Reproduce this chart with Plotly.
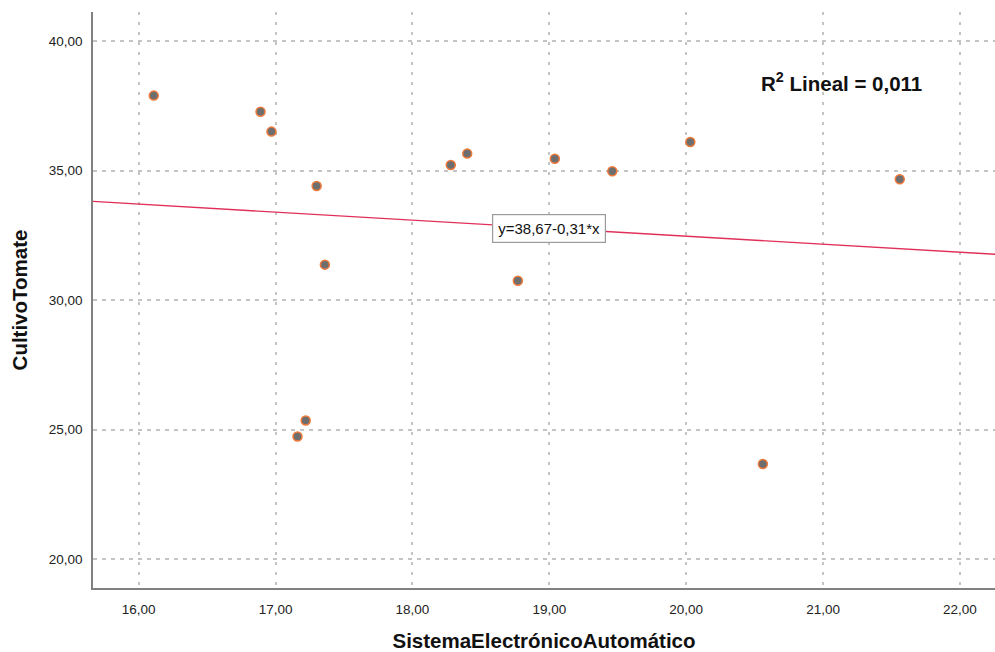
import plotly.graph_objects as go

# Observations: electronic automatic system score vs. tomato crop yield
sistema = [16.11, 16.89, 16.97, 17.30, 17.36, 17.22, 17.16, 18.28, 18.40,
           19.04, 19.46, 18.77, 20.03, 20.56, 21.56]
cultivo = [37.90, 37.28, 36.51, 34.41, 31.37, 25.35, 24.73, 35.22, 35.66,
           35.46, 34.98, 30.75, 36.11, 23.67, 34.67]

# Linear fit as reported
intercept = 38.67
slope = -0.31
r2 = 0.011

x_range = [15.666, 22.256]
y_range = [18.88, 41.13]
x_ticks = [16, 17, 18, 19, 20, 21, 22]
y_ticks = [20, 25, 30, 35, 40]

font_family = "Liberation Sans, Arial, sans-serif"

# plot area in pixels
left, right, top, bottom = 93, 995, 12, 588

fig = go.Figure()

fit_x = list(x_range)
fit_y = [intercept + slope * v for v in fit_x]
fig.add_trace(go.Scatter(
    x=fit_x, y=fit_y, mode="lines",
    line=dict(color="#E0305A", width=1.4),
    hoverinfo="skip", showlegend=False,
))

fig.add_trace(go.Scatter(
    x=sistema, y=cultivo, mode="markers",
    marker=dict(size=9, color="#6E6E6E",
                line=dict(color="#F07A3A", width=1.5)),
    showlegend=False,
))

label_x = 19.0
fig.add_annotation(
    x=label_x, y=intercept + slope * label_x, xref="x", yref="y",
    xanchor="center", yanchor="middle",
    text=f"y={intercept:.2f}{slope:+.2f}*x".replace(".", ","),
    showarrow=False, font=dict(family=font_family, size=15, color="#111111"),
    bgcolor="white", bordercolor="#9A9A9A", borderwidth=1.2, borderpad=5,
)

fig.add_annotation(
    x=(841 - left) / (right - left), y=1 - (82 - top) / (bottom - top),
    xref="paper", yref="paper", xanchor="center", yanchor="middle",
    text=f"<b>R<sup>2</sup> Lineal = {r2:.3f}</b>".replace(".", ","),
    showarrow=False, font=dict(family=font_family, size=20.5, color="#111111"),
)

fig.update_layout(
    width=995, height=652,
    margin=dict(l=left, r=995 - right, t=top, b=652 - bottom),
    paper_bgcolor="white", plot_bgcolor="white",
    separators=",.",
    font=dict(family=font_family, size=13, color="#222222"),
    xaxis=dict(
        range=x_range, tickvals=x_ticks, tickformat=".2f",
        showgrid=True, gridcolor="#C4C4C4", gridwidth=1.5, griddash="3px,7px",
        showline=True, linecolor="#808080", linewidth=1.5,
        ticks="", ticklabelstandoff=8, zeroline=False,
        tickfont=dict(size=13.5, color="#222222"),
        title=dict(text="<b>SistemaElectrónicoAutomático</b>",
                   font=dict(size=20.5, color="#111111"), standoff=20),
    ),
    yaxis=dict(
        range=y_range, tickvals=y_ticks, tickformat=".2f",
        showgrid=True, gridcolor="#C4C4C4", gridwidth=1.5, griddash="4px,5px",
        showline=True, linecolor="#808080", linewidth=1.5,
        ticks="", ticklabelstandoff=6, zeroline=False,
        tickfont=dict(size=13.5, color="#222222"),
        title=dict(text="<b>CultivoTomate</b>",
                   font=dict(size=20.5, color="#111111"), standoff=16),
    ),
)

fig.write_html("out.html")
